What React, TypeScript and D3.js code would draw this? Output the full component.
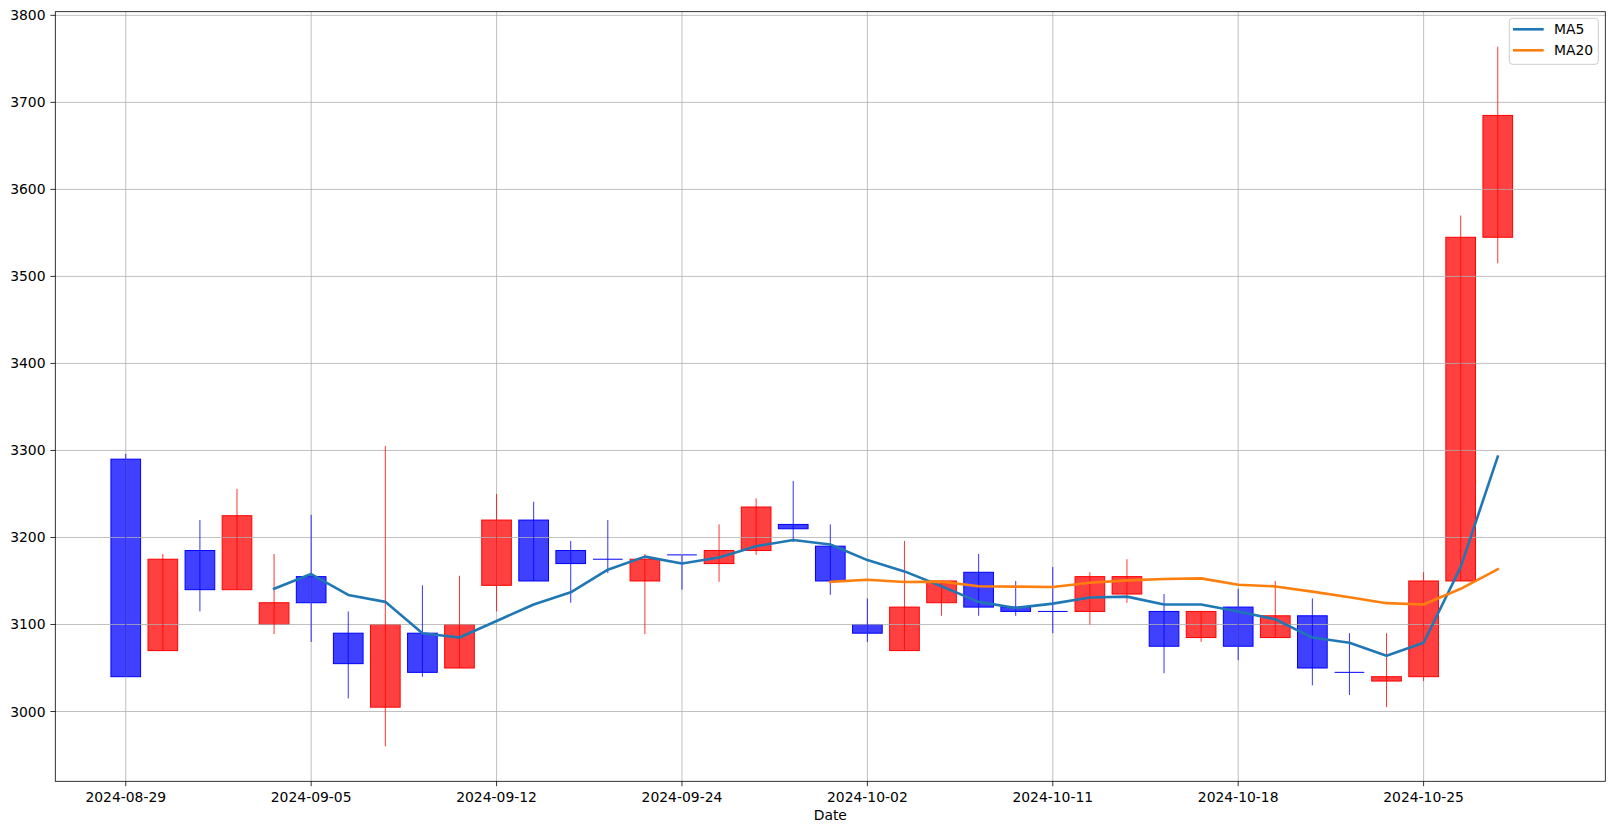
import React from "react";
import * as d3 from "d3";

const dates = [
  "2024-08-29","2024-08-30","2024-09-02","2024-09-03","2024-09-04","2024-09-05","2024-09-06","2024-09-09",
  "2024-09-10","2024-09-11","2024-09-12","2024-09-13","2024-09-18","2024-09-19","2024-09-20","2024-09-24",
  "2024-09-25","2024-09-26","2024-09-27","2024-09-30","2024-10-02","2024-10-07","2024-10-08","2024-10-09",
  "2024-10-10","2024-10-11","2024-10-14","2024-10-15","2024-10-16","2024-10-17","2024-10-18","2024-10-21",
  "2024-10-22","2024-10-23","2024-10-24","2024-10-25","2024-10-28","2024-10-29",
];
const opens = [3290,3070,3185,3140,3100,3155,3090,3005,3090,3050,3145,3220,3185,3175,3150,3180,3170,3185,3215,3190,3100,3070,3125,3160,3120,3115,3115,3135,3115,3085,3120,3085,3110,3045,3035,3040,3150,3545];
const closes = [3040,3175,3140,3225,3125,3125,3055,3100,3045,3100,3220,3150,3170,3175,3175,3180,3185,3235,3210,3150,3090,3120,3150,3120,3115,3115,3155,3155,3075,3115,3075,3110,3050,3045,3040,3150,3545,3685];
const highs = [3296,3181,3220,3256,3181,3226,3115,3305,3145,3156,3250,3241,3196,3220,3181,3180,3215,3245,3265,3215,3130,3196,3150,3181,3150,3166,3160,3175,3135,3115,3141,3150,3130,3090,3090,3160,3570,3764];
const lows = [3040,3070,3115,3140,3089,3080,3015,2960,3040,3050,3115,3150,3125,3159,3089,3140,3149,3180,3195,3134,3080,3070,3110,3110,3110,3090,3100,3125,3044,3080,3059,3085,3030,3019,3005,3035,3150,3515];
const yTicks = [3000, 3100, 3200, 3300, 3400, 3500, 3600, 3700, 3800];
const xTickIdx = [0, 5, 10, 15, 20, 25, 30, 35];
const maSeries = [
  { name: "MA5", window: 5, color: "#1f77b4" },
  { name: "MA20", window: 20, color: "#ff7f0e" },
];

const W = 1614, H = 834;
const L = 55.3, R = 1605.3, T = 11.7, B = 781.3;
const FONT = "DejaVu Sans, sans-serif";
const FS = 13.9;
const LW = 2.6;

function rolling(vals: number[], w: number) {
  return vals.map((_, i) => (i < w - 1 ? null : d3.mean(vals.slice(i - w + 1, i + 1)) as number));
}

export default function App() {
  const n = dates.length;
  const x = d3.scaleLinear().domain([-0.05 * n, n + 0.05 * n]).range([L, R]);
  const lo = d3.min(lows) as number, hi = d3.max(highs) as number;
  const pad = (hi - lo) * 0.05;
  const y = d3.scaleLinear().domain([lo - pad, hi + pad]).range([B, T]);
  const bw = 0.8;

  const lineGen = d3.line<number | null>()
    .defined((d) => d !== null)
    .x((_, i) => x(i))
    .y((d) => y(d as number));

  return (
    <svg width={W} height={H} style={{ position: "absolute", left: 0, top: 0, display: "block", background: "#fff" }} fontFamily={FONT}>
      <rect x={0} y={0} width={W} height={H} fill="#fff" />
      {/* candle bodies */}
      {dates.map((d, i) => {
        const up = closes[i] > opens[i];
        const col = up ? "#ff0000" : "#0000ff";
        const top = y(Math.max(opens[i], closes[i]));
        const bot = y(Math.min(opens[i], closes[i]));
        const x0 = x(i - bw / 2), x1 = x(i + bw / 2);
        if (bot - top < 0.5) {
          return <line key={"b" + d} x1={x0} x2={x1} y1={top} y2={top} stroke={col} strokeWidth={1} />;
        }
        return (
          <rect key={"b" + d} x={x0} y={top} width={x1 - x0} height={bot - top}
            fill={col} fillOpacity={0.75} stroke={col} strokeWidth={1} />
        );
      })}
      {/* grid */}
      {yTicks.map((t) => (
        <line key={"gy" + t} x1={L} x2={R} y1={y(t)} y2={y(t)} stroke="#b0b0b0" strokeWidth={0.8} />
      ))}
      {xTickIdx.map((t) => (
        <line key={"gx" + t} x1={x(t)} x2={x(t)} y1={T} y2={B} stroke="#b0b0b0" strokeWidth={0.8} />
      ))}
      {/* wicks */}
      {dates.map((d, i) => {
        const up = closes[i] > opens[i];
        const col = up ? "#ff0000" : "#0000ff";
        return (
          <line key={"w" + d} x1={x(i)} x2={x(i)} y1={y(highs[i])} y2={y(lows[i])} stroke={col} strokeWidth={1} strokeOpacity={0.8} />
        );
      })}
      {/* moving averages */}
      {maSeries.map((m) => (
        <path key={m.name} d={lineGen(rolling(closes, m.window)) || ""} fill="none" stroke={m.color} strokeWidth={LW} strokeLinejoin="round" strokeLinecap="square" />
      ))}
      {/* spines */}
      <rect x={L} y={T} width={R - L} height={B - T} fill="none" stroke="#000" strokeWidth={0.8} />
      {/* y ticks */}
      {yTicks.map((t) => (
        <g key={"yt" + t}>
          <line x1={L - 4.9} x2={L} y1={y(t)} y2={y(t)} stroke="#000" strokeWidth={0.8} />
          <text x={L - 9.8} y={y(t)} dy="0.36em" textAnchor="end" fontSize={FS} fill="#000">{t}</text>
        </g>
      ))}
      {/* x ticks */}
      {xTickIdx.map((t) => (
        <g key={"xt" + t}>
          <line x1={x(t)} x2={x(t)} y1={B} y2={B + 4.9} stroke="#000" strokeWidth={0.8} />
          <text x={x(t)} y={B + 9.8} dy="0.76em" textAnchor="middle" fontSize={FS} fill="#000">{dates[t]}</text>
        </g>
      ))}
      <text x={(L + R) / 2} y={820} textAnchor="middle" fontSize={FS} fill="#000">Date</text>
      {/* legend */}
      <g>
        <rect x={1509.3} y={18.3} width={89} height={46} rx={3} fill="#fff" fillOpacity={0.8} stroke="#cccccc" strokeWidth={1} />
        {maSeries.map((m, k) => (
          <g key={"lg" + m.name}>
            <line x1={1513} x2={1543.7} y1={29.3 + k * 21} y2={29.3 + k * 21} stroke={m.color} strokeWidth={LW} />
            <text x={1554} y={29.3 + k * 21} dy="0.36em" fontSize={FS} fill="#000">{m.name}</text>
          </g>
        ))}
      </g>
    </svg>
  );
}
